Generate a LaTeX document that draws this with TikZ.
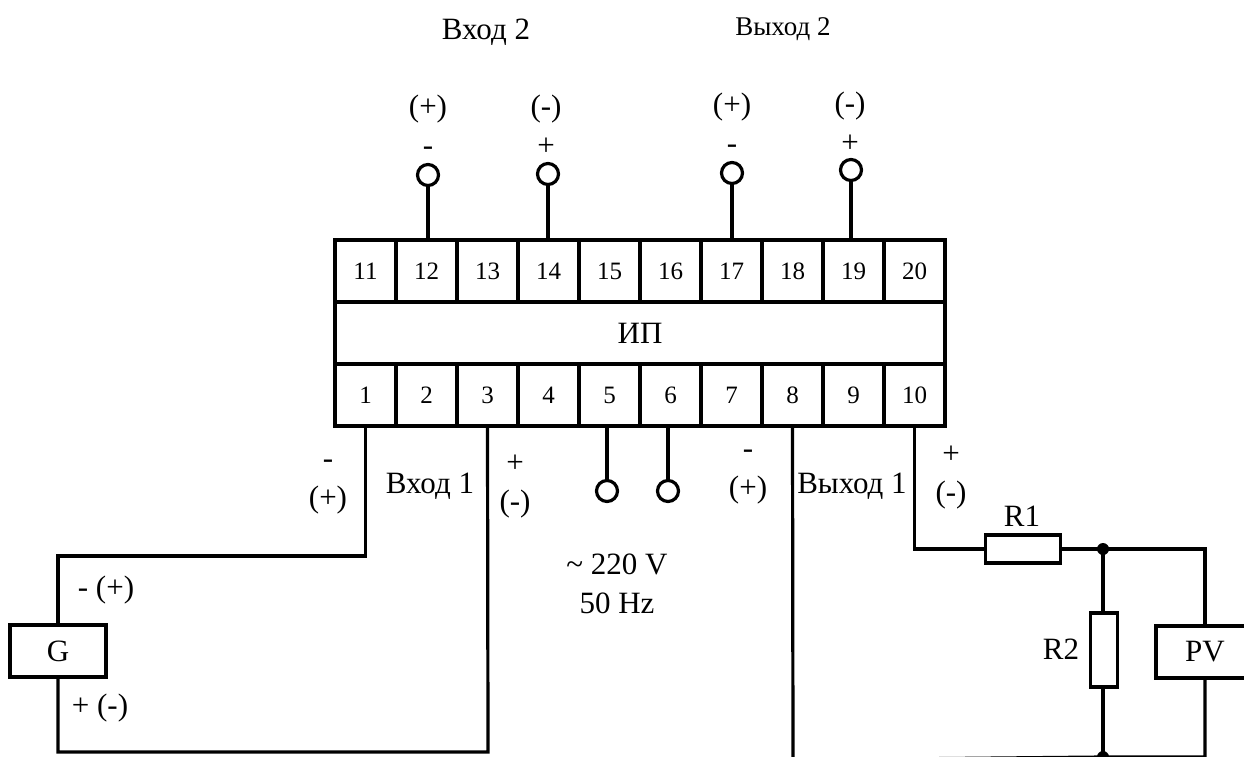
\documentclass[tikz,border=0pt]{standalone}
\usepackage{fontspec}
\setmainfont{Liberation Serif}
\tikzset{
  wire/.style={line width=3.2pt,line join=miter},
  cell/.style={draw,line width=3.2pt,minimum width=61pt,minimum height=62pt,inner sep=0pt,outer sep=0pt,font=\fontsize{25}{27}\selectfont},
  part/.style={draw,fill=white,line width=3.2pt,inner sep=0pt,outer sep=0pt,font=\fontsize{31}{33}\selectfont},
  pin/.style={draw,circle,line width=3.2pt,minimum size=21pt,inner sep=0pt,outer sep=0pt},
  lab/.style={inner sep=0pt,font=\fontsize{31}{39}\selectfont,align=center},
}
\begin{document}
\begin{tikzpicture}[x=1pt,y=-1pt]
    \useasboundingbox (0,0) rectangle (1244,756);

    % terminal block
    \foreach \n [evaluate=\n as \cx using 335+(\n-0.5)*61, evaluate=\n as \m using int(\n+10)] in {1,...,10}{
      \node[cell] (c\n) at (\cx,395) {\n};
      \node[cell] (c\m) at (\cx,271) {\m};
    }
    \node[cell,minimum width=610pt,minimum height=62pt,font=\fontsize{31}{33}\selectfont] (ip) at (640,333) {ИП};

    % pins
    \node[pin] (p12) at (428,175) {};
    \node[pin] (p14) at (548,174) {};
    \node[pin] (p17) at (732,173) {};
    \node[pin] (p19) at (851,170) {};
    \node[pin] (p5) at (607,491) {};
    \node[pin] (p6) at (668,491) {};
    \draw[wire] (p12) -- (p12 |- c12.north) (p14) -- (p14 |- c14.north) (p17) -- (p17 |- c17.north) (p19) -- (p19 |- c19.north);
    \draw[wire] (p5) -- (p5 |- c5.south) (p6) -- (p6 |- c6.south);

    % source
    \node[part,minimum width=96pt,minimum height=52pt] (g) at (58,651) {G};
    \coordinate (a1) at (58,556);
    \coordinate (a2) at (488,752);
    \draw[wire] (c1.south) |- (a1) -- (g.north);
    \draw[wire] (g.south) |- (a2) -- (c3.south);

    % load
    \node[part,minimum width=75pt,minimum height=28pt] (r1) at (1023,549) {};
    \node[part,minimum width=27pt,minimum height=74pt] (r2) at (1104,650) {};
    \node[part,minimum width=98pt,minimum height=52pt] (pv) at (1205,652) {PV};
    \coordinate (d1) at (1103,549);
    \coordinate (d2) at (1103,757);
    \coordinate (b8) at (793,760);
    \draw[wire] (c10.south) |- (r1.west);
    \draw[wire] (r1.east) -- (d1) -| (pv.north);
    \draw[wire] (d1) -- (d1 |- r2.north) (d1 |- r2.south) -- (d2);
    \draw[wire] (c8.south) -- (b8) -- (d2) -| (pv.south);
    \fill (d1) circle (6pt) (d2) circle (6pt);

    % labels
    \node[lab] (in2) at (486,32) {Вход 2};
    \node[lab,font=\fontsize{27}{30}\selectfont] (out2) at (783,29) {Выход 2};
    \node[lab] (s12) at (428,125) {(+)\\-};
    \node[lab] (s14) at (546,125) {(-)\\+};
    \node[lab] (s17) at (732,123) {(+)\\-};
    \node[lab] (s19) at (850,122) {(-)\\+};
    \node[lab] (s1) at (328,487) {-\\(+)};
    \node[lab] (in1) at (430,486) {Вход 1};
    \node[lab] (s3) at (515,487) {+\\(-)};
    \node[lab] (mains) at (617,584) {\textasciitilde{} 220 V\\50 Hz};
    \node[lab] (s8) at (748,477) {-\\(+)};
    \node[lab] (out1) at (852,486) {Выход 1};
    \node[lab] (s10) at (951,478) {+\\(-)};
    \node[lab] (lr1) at (1022,516) {R1};
    \node[lab] (lr2) at (1061,649) {R2};
    \node[lab] (gp) at (106,590) {- (+)};
    \node[lab] (gm) at (100,708) {+ (-)};
\end{tikzpicture}
\end{document}
